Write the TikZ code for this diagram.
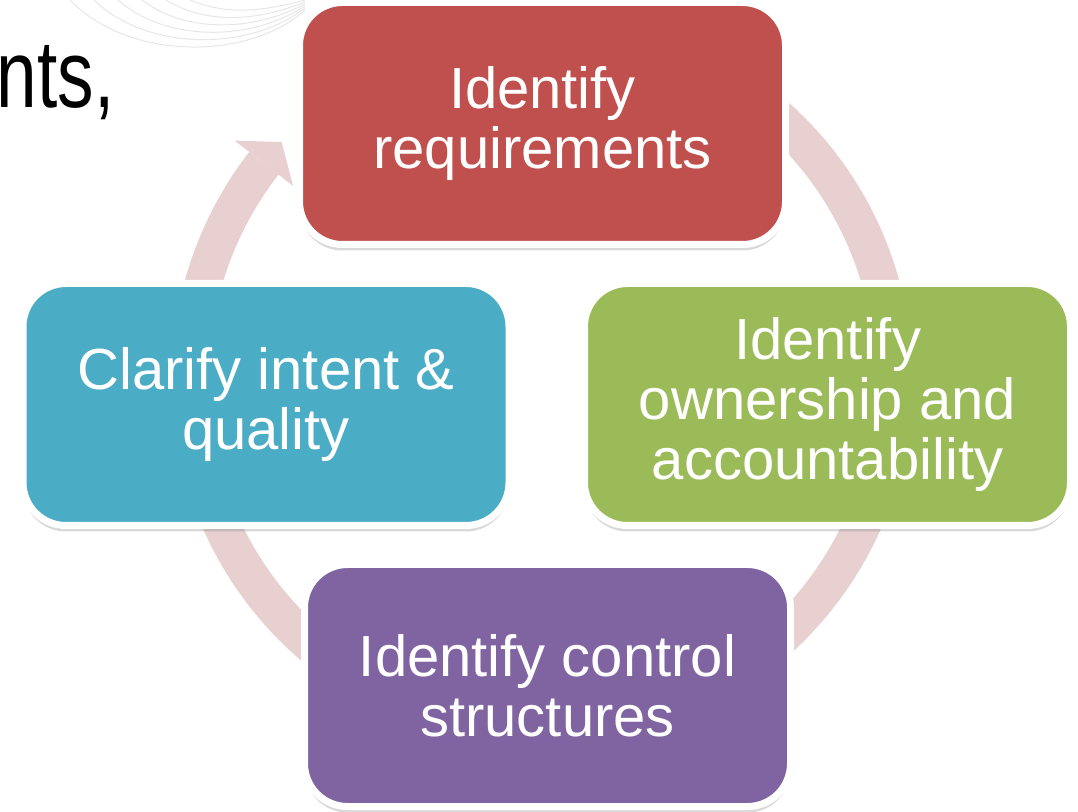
\documentclass[tikz,border=0pt]{standalone}
\usepackage{fontspec}
\setmainfont{Liberation Sans}
\newfontfamily\narrowfont[FakeStretch=0.76]{Liberation Sans}
\usepackage{tikz}
\usetikzlibrary{shadows}

\definecolor{reqred}{HTML}{C0504D}
\definecolor{ownergreen}{HTML}{9BBB59}
\definecolor{ctrlpurple}{HTML}{8064A2}
\definecolor{intentblue}{HTML}{4BACC6}
\definecolor{bandpink}{HTML}{E8D0D1}
\definecolor{swirlgrey}{HTML}{E6E6E6}

\begin{document}
\begin{tikzpicture}[x=1pt, y=1pt,
    stagebox/.style={rectangle, rounded corners=43pt, draw=white, line width=7pt,
        minimum width=486pt, minimum height=242pt, align=center, text=white,
        font=\fontsize{58}{60}\selectfont,
        drop shadow={shadow xshift=0pt, shadow yshift=-6pt, opacity=0.3}},
    loopband/.style={color=bandpink}]
    \useasboundingbox (0,0) rectangle (1078,811);
    % faint swirl of the slide background
    \foreach \k in {0,...,5}
        \draw[swirlgrey, line width=1pt] ({70+24*\k}, 811) .. controls ({130+18*\k}, {749+10*\k}) and (250, {751+9*\k}) .. (305, {801+2*\k});
    % cut title text
    \node[anchor=base east, inner sep=0pt, font=\narrowfont\fontsize{96}{100}\selectfont] (title) at (114.5, 703) {nts,};
    % cycle band with its arrow head
    \coordinate (hub) at (542, 432);
    \draw[loopband, line width=37pt] (hub) ++(100:352) arc[start angle=100, end angle=-217.8, radius=352];
    \fill[loopband] (hub) +(142.2:389) -- +(137.7:352) -- +(142.2:315) -- cycle;
    % the four stages
    \node[stagebox, fill=reqred] (require) at (542.5, 687.5) {Identify\\requirements};
    \node[stagebox, fill=ownergreen] (ownership) at (827.5, 406.5) {Identify\\ownership and\\accountability};
    \node[stagebox, fill=ctrlpurple] (control) at (547.5, 125.5) {Identify control\\structures};
    \node[stagebox, fill=intentblue] (intent) at (266, 406.5) {Clarify intent \&\\quality};
\end{tikzpicture}
\end{document}
